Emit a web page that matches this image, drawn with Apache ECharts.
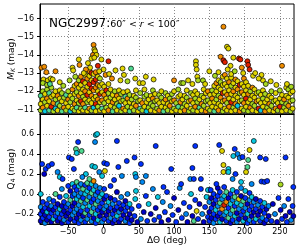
<!DOCTYPE html>
<html><head><meta charset="utf-8">
<script src="https://cdn.jsdelivr.net/npm/echarts@6/dist/echarts.min.js"></script>
<style>html,body{margin:0;padding:0;background:#fff}#c{width:300px;height:250px}</style>
</head><body><div id="c"></div>
<script>
// ---- data: [deltaTheta (deg), value, colour code 0..9] ----
const xTicks = [-50, 0, 50, 100, 150, 200, 250];
const topTicks = [-16, -15, -14, -13, -12, -11];
const bottomTicks = [-0.2, 0.0, 0.2, 0.4, 0.6];
const colourCodes = ['#000080','#0000c8','#0030ff','#0088f0','#08c8e0','#50d890','#a8d820','#e0d400','#f08c00','#e02000'];

const topBand = [
[-89,-10.95,6],[-89,-11.3,7],[-89,-11.75,5],[-86,-11.1,8],[-86,-11.55,7],[-86,-12.0,6],[-83,-10.9,4],[-83,-11.4,6],[-83,-11.85,7],
[-80,-11.2,7],[-80,-11.6,8],[-80,-12.1,6],[-77,-10.95,5],[-77,-11.45,7],[-77,-11.9,5],[-74,-11.15,9],[-74,-11.7,7],[-74,-12.2,6],
[-71,-10.9,6],[-71,-11.35,8],[-71,-11.8,7],[-68,-11.05,4],[-68,-11.55,6],[-68,-12.0,7],[-65,-10.95,7],[-65,-11.3,5],[-65,-11.75,8],
[-62,-11.2,6],[-62,-11.6,7],[-62,-12.05,7],[-59,-10.9,5],[-59,-11.45,7],[-59,-11.9,6],[-56,-11.1,8],[-56,-11.65,6],
[-53,-10.95,6],[-53,-11.35,7],[-53,-11.8,5],[-50,-11.15,7],[-50,-11.55,8],[-50,-12.0,6],[-47,-10.9,4],[-47,-11.4,6],[-47,-11.75,7],
[-44,-11.05,7],[-44,-11.6,6],[-44,-12.1,8],[-41,-10.95,6],[-41,-11.3,8],[-41,-11.85,7],[-41,-12.3,7],
[-38,-11.1,5],[-38,-11.5,7],[-38,-11.95,6],[-38,-12.4,8],[-35,-10.9,7],[-35,-11.35,6],[-35,-11.75,8],[-35,-12.2,7],[-35,-12.6,6],
[-32,-11.05,6],[-32,-11.45,9],[-32,-11.9,7],[-32,-12.35,7],[-32,-12.8,8],[-29,-10.95,7],[-29,-11.3,8],[-29,-11.7,6],[-29,-12.1,7],[-29,-12.55,9],
[-26,-11.1,5],[-26,-11.55,7],[-26,-12.0,8],[-26,-12.45,7],[-26,-12.9,7],[-23,-10.9,7],[-23,-11.4,6],[-23,-11.8,9],[-23,-12.25,7],[-23,-12.7,8],
[-20,-11.05,8],[-20,-11.5,7],[-20,-11.95,7],[-20,-12.4,9],[-20,-12.85,7],[-20,-13.1,8],
[-17,-10.95,6],[-17,-11.35,7],[-17,-11.75,8],[-17,-12.15,9],[-17,-12.6,7],[-17,-13.0,9],
[-14,-11.1,4],[-14,-11.6,7],[-14,-12.05,8],[-14,-12.5,9],[-14,-12.95,7],
[-11,-10.9,7],[-11,-11.3,9],[-11,-11.7,7],[-11,-12.2,8],[-11,-12.65,9],[-11,-13.05,8],
[-8,-11.15,6],[-8,-11.55,8],[-8,-12.0,7],[-8,-12.35,8],[-8,-12.8,7],[-5,-10.95,7],[-5,-11.4,7],[-5,-11.85,9],[-5,-12.3,7],[-5,-12.7,6],
[-2,-11.05,5],[-2,-11.5,8],[-2,-11.95,7],[-2,-12.4,7],[1,-10.9,7],[1,-11.35,6],[1,-11.8,8],[1,-12.25,7],
[4,-11.1,6],[4,-11.6,7],[4,-12.05,9],[7,-10.95,8],[7,-11.45,7],[7,-11.9,6],[7,-12.4,7],[10,-11.2,7],[10,-11.65,6],[10,-12.1,7],
[13,-10.9,5],[13,-11.4,8],[13,-11.8,7],[16,-11.1,6],[16,-11.55,7],[16,-12.0,6],[19,-10.95,7],[19,-11.3,6],[19,-11.75,8],
[22,-11.2,4],[22,-11.6,7],[22,-12.05,7],[25,-10.9,6],[25,-11.45,7],[25,-11.85,6],[28,-11.05,8],[28,-11.5,6],[28,-11.95,7],
[31,-10.95,7],[31,-11.35,7],[31,-11.7,5],[34,-11.15,6],[34,-11.6,8],[34,-12.0,7],[37,-10.9,5],[37,-11.4,7],[37,-11.8,6],
[40,-11.1,7],[40,-11.55,6],[43,-10.95,6],[43,-11.3,7],[43,-11.75,7],[46,-11.2,8],[46,-11.65,6],[46,-12.05,7],
[49,-10.9,7],[49,-11.45,6],[52,-11.05,5],[52,-11.5,7],[52,-11.9,6],[55,-10.95,6],[55,-11.35,8],
[58,-11.15,7],[58,-11.7,6],[58,-12.1,7],[61,-10.9,4],[61,-11.4,7],[61,-11.8,6],[64,-11.1,6],[64,-11.55,7],
[67,-10.95,7],[67,-11.3,6],[67,-11.75,7],[70,-11.2,6],[70,-11.6,8],[70,-12.05,6],[73,-10.9,7],[73,-11.45,6],[73,-11.85,7],
[76,-11.05,6],[76,-11.5,7],[79,-10.95,8],[79,-11.35,7],[79,-11.8,6],[82,-11.15,7],[82,-11.65,6],[82,-12.0,7],
[85,-10.9,5],[85,-11.4,7],[88,-11.1,7],[88,-11.55,8],[88,-11.9,6],[91,-10.95,6],[91,-11.3,7],[91,-11.75,7],
[94,-11.2,8],[94,-11.6,6],[97,-10.9,7],[97,-11.45,7],[97,-11.85,6],[100,-11.05,6],[100,-11.5,8],[100,-12.0,7],
[103,-10.95,7],[103,-11.35,6],[106,-11.15,5],[106,-11.7,7],[106,-12.1,6],[109,-10.9,7],[109,-11.4,8],[109,-11.8,7],
[112,-11.1,6],[112,-11.55,7],[115,-10.95,8],[115,-11.3,6],[115,-11.75,7],[118,-11.2,7],[118,-11.65,6],[118,-12.05,7],
[121,-10.9,6],[121,-11.45,7],[124,-11.05,7],[124,-11.5,8],[124,-11.9,6],[127,-10.95,6],[127,-11.35,7],[127,-11.8,7],
[130,-11.15,8],[130,-11.6,6],[130,-12.0,7],[133,-10.9,7],[133,-11.4,6],[133,-11.85,7],[136,-11.1,5],[136,-11.55,7],
[139,-10.95,7],[139,-11.3,8],[139,-11.75,6],[142,-11.2,6],[142,-11.65,7],[142,-12.1,7],[145,-10.9,8],[145,-11.45,6],[145,-11.9,7],
[148,-11.05,7],[148,-11.5,6],[148,-12.0,8],[151,-10.95,6],[151,-11.35,7],[151,-11.8,7],[154,-11.15,7],[154,-11.6,8],[154,-12.05,6],
[157,-10.9,5],[157,-11.4,7],[157,-11.85,7],[157,-12.3,7],[160,-11.1,7],[160,-11.55,6],[160,-12.0,7],[160,-12.45,8],
[163,-10.95,8],[163,-11.3,7],[163,-11.75,6],[163,-12.2,7],[163,-12.6,7],[166,-11.2,7],[166,-11.65,8],[166,-12.1,7],[166,-12.5,6],
[169,-10.9,6],[169,-11.45,7],[169,-11.9,9],[169,-12.35,7],[169,-12.8,7],[172,-11.05,7],[172,-11.5,8],[172,-11.95,7],[172,-12.4,7],[172,-12.9,8],
[175,-10.95,7],[175,-11.35,6],[175,-11.8,8],[175,-12.25,7],[175,-12.7,7],[178,-11.15,8],[178,-11.6,7],[178,-12.05,7],[178,-12.5,8],
[181,-10.9,7],[181,-11.4,9],[181,-11.85,7],[181,-12.3,6],[181,-12.75,7],[184,-11.1,6],[184,-11.55,7],[184,-12.0,8],[184,-12.45,7],
[187,-10.95,7],[187,-11.3,8],[187,-11.75,7],[187,-12.2,7],[187,-12.65,8],[190,-11.2,4],[190,-11.65,7],[190,-12.1,8],[190,-12.55,7],
[193,-10.9,8],[193,-11.45,7],[193,-11.9,6],[193,-12.35,9],[196,-11.05,7],[196,-11.5,6],[196,-11.95,8],[196,-12.4,7],
[199,-10.95,6],[199,-11.35,8],[199,-11.8,7],[199,-12.25,7],[199,-12.7,8],[202,-11.15,7],[202,-11.6,9],[202,-12.05,7],[202,-12.5,7],
[205,-10.9,6],[205,-11.4,7],[205,-11.85,8],[205,-12.3,7],[208,-11.1,8],[208,-11.55,7],[208,-12.0,6],
[211,-10.95,7],[211,-11.3,6],[211,-11.75,7],[211,-12.2,8],[214,-11.2,6],[214,-11.65,7],[214,-12.1,7],
[217,-10.9,7],[217,-11.45,8],[217,-11.9,7],[220,-11.05,9],[220,-11.5,7],[220,-11.95,6],[223,-10.95,4],[223,-11.35,7],[223,-11.8,7],
[226,-11.15,7],[226,-11.6,6],[226,-12.05,7],[229,-10.9,8],[229,-11.4,7],[229,-11.85,6],[232,-11.1,6],[232,-11.55,7],
[235,-10.95,7],[235,-11.3,8],[235,-11.75,7],[238,-11.2,6],[238,-11.65,7],[238,-12.0,6],[241,-10.9,7],[241,-11.45,6],
[244,-11.05,8],[244,-11.5,7],[244,-11.9,7],[247,-10.95,6],[247,-11.35,7],[250,-11.15,9],[250,-11.6,7],[250,-12.05,6],
[253,-10.9,7],[253,-11.4,6],[253,-11.8,7],[256,-11.1,6],[256,-11.55,8],[259,-10.95,7],[259,-11.3,6],[259,-11.75,7],[259,-12.2,7],
[262,-11.2,8],[262,-11.65,7],[262,-12.1,6],[265,-10.9,6],[265,-11.45,7],[265,-11.9,7],[268,-11.05,7],[268,-11.5,6],[268,-12.0,7]
];
const topUpper = [
[-88,-13.3,8],[-84,-13.35,8],[-81,-13.05,8],[-85,-12.65,7],[-79,-12.6,7],[-75,-12.7,7],[-72,-12.65,7],[-68,-13.1,8],[-86,-12.45,6],
[-80,-12.35,6],[-76,-12.4,5],[-62,-12.5,7],[-57,-12.3,6],[-44,-13.3,7],[-43,-13.15,7],[-34,-13.45,8],[-35,-13.75,7],[-40,-12.8,6],
[-48,-12.6,6],[-22,-13.55,7],[-19,-13.3,7],[-14,-14.55,8],[-13,-14.3,7],[-12,-14.2,7],[-15,-14.0,8],[-10,-14.0,7],[-17,-13.8,7],
[-13,-13.85,7],[-3,-13.75,7],[0,-13.2,7],[7,-13.65,9],[-25,-13.2,8],[-8,-13.4,9],[-6,-13.1,7],[3,-12.9,8],[-28,-13.0,7],
[17,-13.15,7],[24,-12.6,7],[27,-13.25,7],[29,-12.9,7],[39,-13.25,5],[45,-12.7,7],[34,-12.55,6],[51,-12.45,7],[56,-12.45,7],
[60,-12.8,7],[12,-12.7,8],[8,-12.95,7],[71,-12.65,7],[100,-12.6,8],[110,-12.45,6],[113,-12.45,6],[120,-12.6,7],[126,-12.4,7],
[131,-13.65,7],[131,-13.45,7],[132,-13.2,7],[133,-12.8,7],[134,-12.6,6],[141,-12.6,6],[144,-12.4,7],[150,-13.1,7],
[170,-15.55,8],[175,-14.45,7],[177,-14.35,7],[166,-13.9,8],[170,-13.7,9],[172,-13.6,9],[184,-13.85,7],[192,-13.8,9],[194,-13.75,9],
[204,-13.65,9],[205,-13.45,9],[207,-13.2,9],[180,-13.4,7],[176,-13.2,7],[181,-12.95,7],[198,-13.0,7],[212,-12.85,7],[253,-13.4,8],
[237,-12.55,7],[224,-12.9,7],[226,-12.6,7],[220,-12.7,7],[186,-13.1,6],[196,-13.3,8],[163,-13.05,7],[158,-12.85,6],[215,-13.0,7],
[260,-12.4,7],[266,-12.25,6],[245,-12.35,7],[230,-12.4,6]
];
const bottomBand = [
[-89,-0.27,1],[-89,-0.2,2],[-89,-0.13,3],[-89,0.0,4],[-86,-0.24,2],[-86,-0.17,1],[-86,-0.08,2],[-83,-0.29,3],[-83,-0.21,1],[-83,-0.14,2],
[-80,-0.26,1],[-80,-0.18,4],[-80,-0.1,2],[-77,-0.23,2],[-77,-0.15,1],[-77,-0.05,3],[-74,-0.28,1],[-74,-0.19,2],[-74,-0.12,3],
[-71,-0.25,4],[-71,-0.16,1],[-71,-0.07,2],[-68,-0.22,2],[-68,-0.13,2],[-68,0.0,5],[-65,-0.27,1],[-65,-0.19,3],[-65,-0.1,1],
[-62,-0.24,2],[-62,-0.15,4],[-62,-0.03,2],[-59,-0.29,1],[-59,-0.2,2],[-59,-0.12,1],[-59,0.05,3],[-56,-0.26,3],[-56,-0.17,1],[-56,-0.08,2],
[-53,-0.22,1],[-53,-0.13,2],[-53,-0.02,4],[-50,-0.28,2],[-50,-0.19,1],[-50,-0.1,3],[-50,0.08,2],[-47,-0.25,1],[-47,-0.16,2],[-47,-0.06,5],[-47,0.03,1],
[-44,-0.21,3],[-44,-0.12,1],[-44,-0.02,2],[-44,0.1,4],[-41,-0.27,2],[-41,-0.18,3],[-41,-0.09,1],[-41,0.0,3],[-41,0.07,2],
[-38,-0.24,1],[-38,-0.15,3],[-38,-0.05,4],[-38,0.04,2],[-38,0.12,5],[-35,-0.29,2],[-35,-0.2,1],[-35,-0.11,3],[-35,-0.02,3],[-35,0.08,4],
[-32,-0.26,3],[-32,-0.17,2],[-32,-0.07,5],[-32,0.01,3],[-32,0.1,3],[-29,-0.22,1],[-29,-0.13,4],[-29,-0.04,2],[-29,0.05,5],
[-26,-0.28,2],[-26,-0.19,5],[-26,-0.09,3],[-26,0.0,4],[-26,0.09,2],[-23,-0.25,3],[-23,-0.16,2],[-23,-0.06,5],[-23,0.03,4],[-23,0.11,5],
[-20,-0.21,2],[-20,-0.12,4],[-20,-0.03,3],[-20,0.06,2],[-17,-0.27,3],[-17,-0.18,5],[-17,-0.08,2],[-17,0.01,5],[-17,0.1,4],
[-14,-0.24,1],[-14,-0.14,3],[-14,-0.05,2],[-14,0.04,4],[-14,0.13,8],[-11,-0.29,2],[-11,-0.2,4],[-11,-0.1,5],[-11,-0.01,3],[-11,0.08,3],
[-8,-0.26,4],[-8,-0.16,2],[-8,-0.07,3],[-8,0.02,2],[-5,-0.22,1],[-5,-0.13,2],[-5,-0.03,4],[-5,0.06,3],[-2,-0.28,3],[-2,-0.18,1],[-2,-0.09,2],[-2,0.0,4],
[1,-0.25,2],[1,-0.15,3],[1,-0.05,1],[1,0.05,2],[4,-0.21,1],[4,-0.12,3],[4,-0.02,2],[7,-0.27,2],[7,-0.17,1],[7,-0.08,4],
[10,-0.24,3],[10,-0.14,2],[10,-0.04,1],[10,0.08,2],[13,-0.29,1],[13,-0.2,2],[13,-0.1,3],[16,-0.26,2],[16,-0.16,1],[16,-0.06,2],
[19,-0.22,4],[19,-0.13,2],[19,0.02,1],[22,-0.28,1],[22,-0.18,3],[22,-0.09,2],[25,-0.25,2],[25,-0.15,1],[25,-0.03,3],[28,-0.21,1],[28,-0.11,2],
[31,-0.27,3],[31,-0.17,2],[31,-0.07,1],[34,-0.24,1],[34,-0.13,2],[34,0.0,3],[37,-0.29,2],[37,-0.2,1],[37,-0.1,4],[40,-0.26,1],[40,-0.15,2],
[44,-0.22,2],[45,-0.05,4],[46,0.03,4],[48,-0.28,1],[50,-0.12,2],[53,-0.25,3],[55,0.12,3],[57,-0.18,1],[60,-0.02,2],[62,-0.27,2],
[64,-0.1,4],[67,-0.2,1],[70,0.05,3],[72,-0.26,2],[74,-0.14,1],[77,-0.03,4],[79,-0.23,2],[82,-0.28,1],[84,-0.08,3],[87,-0.18,2],
[90,0.02,2],[92,-0.26,1],[95,-0.12,3],[98,-0.21,2],[100,-0.04,1],[103,-0.28,2],[106,-0.16,1],[108,0.06,3],[111,-0.24,2],[114,-0.09,2],
[117,-0.2,3],[119,-0.28,1],[122,-0.13,2],[124,0.0,4],[126,-0.22,1],[128,-0.27,5],[130,-0.06,2],[132,-0.17,7],[134,-0.25,2],[136,-0.1,1],
[138,0.05,2],[140,-0.2,3],[142,-0.28,1],[144,-0.13,2],[146,-0.03,4],[148,-0.23,2],
[150,-0.27,2],[150,-0.18,1],[150,-0.08,3],[150,0.04,4],[153,-0.24,1],[153,-0.14,2],[153,-0.04,1],[156,-0.29,3],[156,-0.2,2],[156,-0.1,1],[156,0.0,2],
[159,-0.25,2],[159,-0.16,4],[159,-0.06,2],[162,-0.22,1],[162,-0.12,3],[162,-0.02,2],[162,0.06,1],[165,-0.28,4],[165,-0.19,2],[165,-0.09,5],[165,0.02,2],
[168,-0.25,1],[168,-0.15,8],[168,-0.05,3],[171,-0.21,3],[171,-0.11,9],[171,-0.02,4],[171,0.07,2],[174,-0.27,2],[174,-0.18,4],[174,-0.08,8],[174,0.02,5],
[177,-0.24,5],[177,-0.14,2],[177,-0.04,1],[180,-0.29,1],[180,-0.2,3],[180,-0.1,4],[180,0.0,2],[183,-0.26,2],[183,-0.16,5],[183,-0.06,3],[183,0.04,4],
[186,-0.22,4],[186,-0.12,2],[186,-0.03,5],[189,-0.28,3],[189,-0.19,1],[189,-0.09,4],[189,0.02,2],[192,-0.25,1],[192,-0.15,3],[192,-0.05,7],
[195,-0.21,2],[195,-0.11,4],[195,-0.02,1],[195,0.06,3],[198,-0.27,4],[198,-0.17,2],[198,-0.07,5],[201,-0.24,1],[201,-0.14,3],[201,-0.04,2],[201,0.03,4],
[204,-0.29,2],[204,-0.2,4],[204,-0.1,1],[207,-0.26,3],[207,-0.16,2],[207,-0.06,3],[207,0.01,2],[210,-0.22,1],[210,-0.12,2],[210,-0.03,4],
[213,-0.28,2],[213,-0.18,1],[213,-0.08,3],[216,-0.25,4],[216,-0.15,2],[216,-0.05,1],[219,-0.21,1],[219,-0.11,3],[222,-0.27,2],[222,-0.17,1],[222,-0.07,2],
[225,-0.24,3],[225,-0.13,2],[228,-0.29,1],[228,-0.19,2],[228,-0.09,4],[231,-0.26,2],[231,-0.15,1],[234,-0.22,1],[234,-0.12,3],
[238,-0.27,2],[240,-0.1,1],[243,-0.2,3],[246,-0.28,1],[248,-0.04,2],[251,-0.16,1],[253,-0.25,2],[256,-0.12,3],[258,-0.22,1],[260,-0.28,2],
[262,-0.05,2],[264,-0.18,1],[266,-0.26,3],[268,-0.12,2],[269,-0.22,1]
];
const bottomUpper = [
[-11,0.59,4],[-9,0.6,4],[-36,0.52,2],[-39,0.45,5],[-38,0.41,4],[-31,0.43,5],[-12,0.52,3],[19,0.53,2],[-49,0.365,2],[-45,0.35,2],
[-42,0.25,2],[-87,0.3,2],[-82,0.25,2],[-78,0.28,2],[-73,0.3,2],[-84,0.2,1],[-65,0.22,3],[-62,0.17,4],[-58,0.15,2],[-16,0.28,4],
[-12,0.27,4],[-6,0.22,3],[-2,0.18,4],[1,0.31,2],[5,0.3,2],[2,0.23,7],[21,0.27,2],[33,0.33,2],[44,0.365,2],[53,0.3,2],[45,0.2,4],
[46,0.17,3],[26,0.18,3],[15,0.14,2],[-25,0.2,4],[-30,0.17,3],[-20,0.15,5],
[74,0.48,2],[130,0.48,2],[164,0.49,2],[213,0.53,4],[168,0.43,7],[186,0.45,2],[190,0.4,3],[184,0.38,4],[193,0.36,3],[197,0.37,2],
[207,0.44,7],[222,0.365,2],[230,0.35,2],[258,0.365,2],[205,0.34,5],[204,0.27,5],[202,0.22,7],[170,0.29,7],[170,0.22,7],[177,0.25,4],
[177,0.22,4],[96,0.25,2],[126,0.26,2],[123,0.15,3],[128,0.15,2],[138,0.15,2],[224,0.125,2],[228,0.12,2],[232,0.13,2],[251,0.095,6],
[269,0.07,2],[148,0.04,4],[152,0.04,2],[183,0.15,3],[187,0.2,2],[195,0.12,4],[210,0.1,3],[160,0.1,2],[110,0.1,2],[85,0.07,2],[60,0.18,3]
];

const FONT = 'DejaVu Sans';
const minus = v => String(v).replace('-', '\u2212');
const gridLine = {show: true, lineStyle: {color: '#8a8a8a', type: [1, 2], width: 1}};
const tickStyle = {show: true, inside: false, length: 3, lineStyle: {color: '#000', width: 1}};
const axisLine = {show: true, onZero: false, lineStyle: {color: '#000', width: 1}};
const markStyle = {borderColor: '#000', borderWidth: 0.7, opacity: 1};

const chart = echarts.init(document.getElementById('c'), null, {renderer: 'canvas'});
chart.setOption({
  animation: false,
  backgroundColor: '#fff',
  grid: [
    {left: 40, top: 4, width: 254, height: 110, outerBoundsMode: 'none', containLabel: false, show: true, borderColor: '#000', borderWidth: 1, backgroundColor: 'transparent'},
    {left: 40, top: 114, width: 254, height: 110, outerBoundsMode: 'none', containLabel: false, show: true, borderColor: '#000', borderWidth: 1, backgroundColor: 'transparent'}
  ],
  xAxis: [
    {gridIndex: 0, type: 'value', min: -90, max: 270, axisLine, axisTick: {...tickStyle, customValues: xTicks},
     axisLabel: {show: false, customValues: xTicks}, splitLine: gridLine},
    {gridIndex: 1, type: 'value', min: -90, max: 270, axisLine, axisTick: {...tickStyle, customValues: xTicks},
     axisLabel: {show: true, customValues: xTicks, formatter: minus, color: '#000', fontFamily: FONT, fontSize: 8, margin: 4},
     splitLine: gridLine,
     name: 'ΔΘ (deg)', nameLocation: 'middle', nameGap: 12, nameMoveOverlap: false,
     nameTextStyle: {color: '#000', fontFamily: FONT, fontSize: 9}}
  ],
  yAxis: [
    {gridIndex: 0, type: 'value', min: -16.8, max: -10.75, inverse: true, axisLine,
     axisTick: {...tickStyle, customValues: topTicks},
     axisLabel: {customValues: topTicks, formatter: minus, color: '#000', fontFamily: FONT, fontSize: 8, margin: 6},
     splitLine: gridLine,
     name: '{m|M}{k|K}{n| (mag)}', nameLocation: 'middle', nameGap: 24, nameRotate: 90, nameMoveOverlap: false,
     nameTextStyle: {color: '#000', fontFamily: FONT, fontSize: 9,
       rich: {m: {fontStyle: 'italic', fontSize: 9, fontFamily: FONT, color: '#000'},
              k: {fontStyle: 'italic', fontSize: 6, fontFamily: FONT, color: '#000', verticalAlign: 'bottom', padding: [3, 0, 0, 0]},
              n: {fontSize: 9, fontFamily: FONT, color: '#000'}}}},
    {gridIndex: 1, type: 'value', min: -0.3, max: 0.8, axisLine,
     axisTick: {...tickStyle, customValues: bottomTicks},
     axisLabel: {customValues: bottomTicks, formatter: v => minus(v.toFixed(1)), color: '#000', fontFamily: FONT, fontSize: 8, margin: 6},
     splitLine: gridLine,
     name: '{m|Q}{k|4}{n| (mag)}', nameLocation: 'middle', nameGap: 24, nameRotate: 90, nameMoveOverlap: false,
     nameTextStyle: {color: '#000', fontFamily: FONT, fontSize: 9,
       rich: {m: {fontSize: 9, fontFamily: FONT, color: '#000'},
              k: {fontSize: 6, fontFamily: FONT, color: '#000', verticalAlign: 'bottom', padding: [3, 0, 0, 0]},
              n: {fontSize: 9, fontFamily: FONT, color: '#000'}}}}
  ],
  visualMap: {show: false, type: 'continuous', min: 0, max: 9, dimension: 2, seriesIndex: [0, 1, 2, 3], inRange: {color: colourCodes}},
  series: [
    {type: 'scatter', xAxisIndex: 0, yAxisIndex: 0, data: topBand, symbolSize: 5, itemStyle: markStyle},
    {type: 'scatter', xAxisIndex: 0, yAxisIndex: 0, data: topUpper, symbolSize: 5, itemStyle: markStyle},
    {type: 'scatter', xAxisIndex: 1, yAxisIndex: 1, data: bottomBand, symbolSize: 5, itemStyle: markStyle},
    {type: 'scatter', xAxisIndex: 1, yAxisIndex: 1, data: bottomUpper, symbolSize: 5, itemStyle: markStyle}
  ],
  graphic: [{
    type: 'text', left: 49, top: 18, z: 100,
    style: {
      text: '{a|NGC2997:}{b|60″ < }{c|r}{b| < 100″}',
      rich: {
        a: {fontFamily: FONT, fontSize: 12, fill: '#000', verticalAlign: 'bottom', lineHeight: 14},
        b: {fontFamily: FONT, fontSize: 9.5, fill: '#000', verticalAlign: 'bottom', lineHeight: 13},
        c: {fontFamily: FONT, fontSize: 9.5, fontStyle: 'italic', fill: '#000', verticalAlign: 'bottom', lineHeight: 13}
      }
    }
  }]
});
</script></body></html>
